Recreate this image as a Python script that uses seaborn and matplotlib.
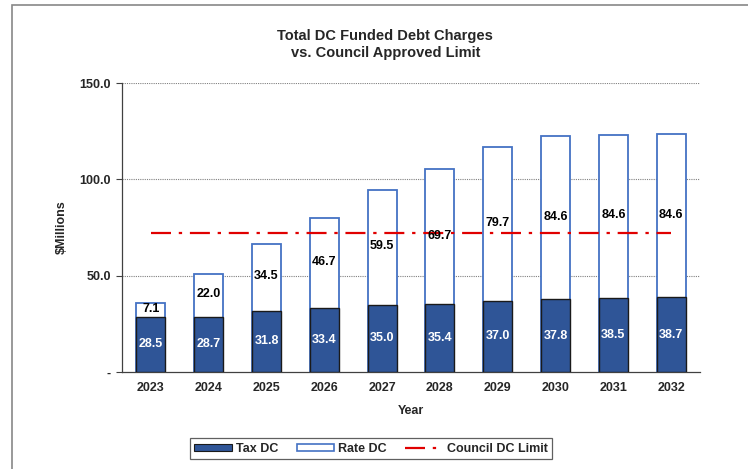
import numpy as np
import pandas as pd
import matplotlib
matplotlib.use("Agg")
import matplotlib.pyplot as plt
import seaborn as sns
from matplotlib.patches import Patch, Rectangle
from matplotlib.lines import Line2D

years = ["2023", "2024", "2025", "2026", "2027", "2028", "2029", "2030", "2031", "2032"]
tax_dc = [28.5, 28.7, 31.8, 33.4, 35.0, 35.4, 37.0, 37.8, 38.5, 38.7]
rate_dc = [7.1, 22.0, 34.5, 46.7, 59.5, 69.7, 79.7, 84.6, 84.6, 84.6]
council_limit = [72.0] * len(years)

TAX_COLOR = "#2F5597"
RATE_EDGE = "#4472C4"
LIMIT_COLOR = "#E00000"

sns.set_theme(style="white")
plt.rcParams["font.family"] = ["Liberation Sans", "DejaVu Sans"]
plt.rcParams["font.weight"] = "bold"

df = pd.DataFrame({"Year": years, "Tax DC": tax_dc, "Rate DC": rate_dc})
df["Total"] = df["Tax DC"] + df["Rate DC"]

fig = plt.figure(figsize=(7.48, 4.69), dpi=100)
ax = fig.add_axes([0.163, 0.207, 0.773, 0.616])

# total bar (white with blue outline) then tax part on top
sns.barplot(data=df, x="Year", y="Total", color="white", edgecolor=RATE_EDGE,
            linewidth=1.3, width=0.5, saturation=1, ax=ax, zorder=2)
sns.barplot(data=df, x="Year", y="Tax DC", color=TAX_COLOR, edgecolor="#1a1a1a",
            linewidth=1.0, width=0.5, saturation=1, ax=ax, zorder=3)

ax.plot(range(len(years)), council_limit, color=LIMIT_COLOR, linewidth=1.6,
        linestyle=(0, (9, 3.5, 1.5, 3.5)), zorder=4)

for i, (t, r) in enumerate(zip(tax_dc, rate_dc)):
    ax.text(i, t / 2, f"{t:.1f}", ha="center", va="center", color="white",
            fontsize=9, fontweight="bold", zorder=5)
    ax.text(i, t + r / 2 + 0.5, f"{r:.1f}", ha="center", va="center", color="black",
            fontsize=9, fontweight="bold", zorder=5)

ax.set_ylim(0, 150)
ax.set_xlim(-0.5, len(years) - 0.5)
ax.set_yticks([0, 50, 100, 150])
ax.set_yticklabels(["-", "50.0", "100.0", "150.0"], fontsize=9, fontweight="bold")
for y in [50, 100, 150]:
    ax.axhline(y, color="#808080", linestyle=(0, (1, 1)), linewidth=0.8, zorder=0)

ax.set_xticks(range(len(years)))
ax.set_xticklabels(years, fontsize=9, fontweight="bold")
ax.set_xticks(np.arange(-0.5, len(years)), minor=True)
ax.tick_params(axis="x", which="major", length=0, pad=7)
ax.tick_params(axis="x", which="minor", length=4, color="#404040", width=0.8, direction="out")
ax.tick_params(axis="y", length=4, color="#404040", width=0.8, direction="out", pad=4, left=True)

for s in ["top", "right"]:
    ax.spines[s].set_visible(False)
for s in ["left", "bottom"]:
    ax.spines[s].set_color("#404040")
    ax.spines[s].set_linewidth(0.9)

ax.set_xlabel("Year", fontsize=9, fontweight="bold", labelpad=8)
ax.set_ylabel("$Millions", fontsize=9, fontweight="bold", labelpad=8)

fig.text(0.515, 0.905, "Total DC Funded Debt Charges\nvs. Council Approved Limit",
         ha="center", va="center", fontsize=10.5, fontweight="bold", linespacing=1.35)

handles = [
    Patch(facecolor=TAX_COLOR, edgecolor="#1a1a1a", linewidth=0.8),
    Patch(facecolor="white", edgecolor=RATE_EDGE, linewidth=1.2),
    Line2D([], [], color=LIMIT_COLOR, linewidth=1.6, linestyle=(0, (9, 3.5, 1.5, 3.5))),
]
leg = fig.legend(handles, ["Tax DC", "Rate DC", "Council DC Limit"], ncol=3,
                 loc="center", bbox_to_anchor=(0.496, 0.043), frameon=True,
                 fancybox=False, edgecolor="#606060", fontsize=9,
                 handlelength=3.0, handleheight=0.55, columnspacing=1.5,
                 handletextpad=0.3, borderpad=0.35, borderaxespad=0.2, framealpha=1)
leg.get_frame().set_linewidth(0.9)

fig.patches.append(Rectangle((0.016, -0.01), 1.0, 1.0, transform=fig.transFigure,
                             fill=False, edgecolor="#888888", linewidth=1.2))

fig.savefig("out.png", dpi=100)
